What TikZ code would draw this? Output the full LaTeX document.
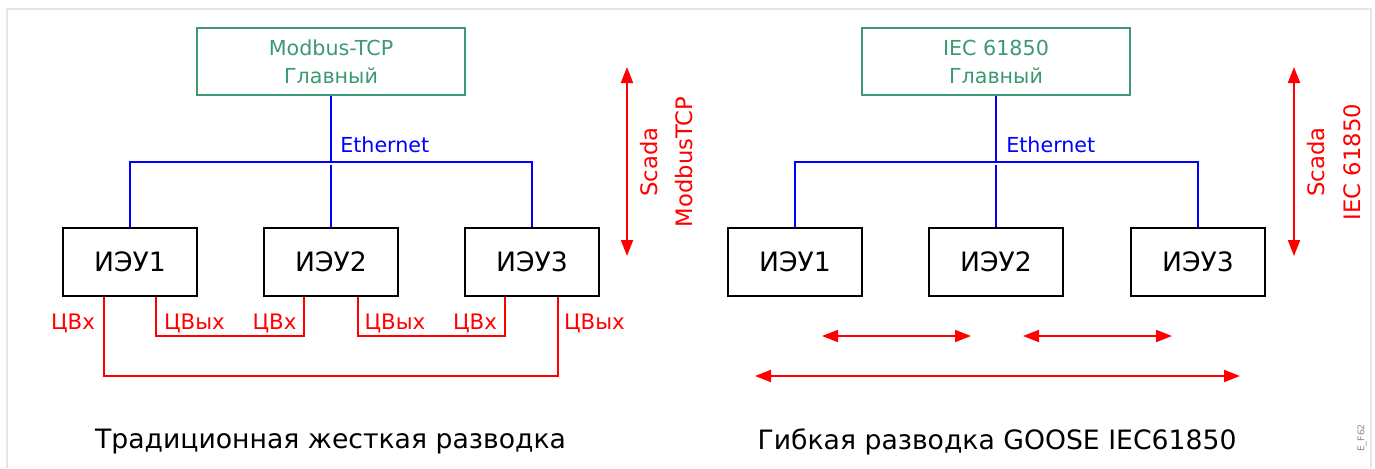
\documentclass[tikz,border=0pt]{standalone}
\usepackage{fontspec}
\setmainfont{DejaVu Sans}
\usetikzlibrary{arrows.meta}
\definecolor{mgreen}{RGB}{61,153,112}
\definecolor{mred}{RGB}{255,0,0}
\definecolor{mblue}{RGB}{0,0,255}
\definecolor{frame}{RGB}{230,230,230}
\tikzset{
  ied/.style={draw=black, line width=1.2pt, inner sep=0pt, minimum width=100.5pt, minimum height=51pt, font=\fontsize{20}{23}\selectfont},
  master/.style={draw=mgreen, line width=1.1pt, inner sep=0pt, minimum width=201pt, minimum height=50.25pt, text=mgreen, align=center, font=\fontsize{15.5}{21}\selectfont},
  eth/.style={draw=mblue, line width=1.1pt},
  ethlbl/.style={text=mblue, font=\fontsize{15.5}{18}\selectfont, inner sep=0pt, anchor=west},
  wire/.style={draw=mred, line width=1.1pt},
  wirelbl/.style={text=mred, font=\fontsize{16}{18}\selectfont, inner sep=0pt},
  biarrow/.style={draw=mred, line width=1.5pt, {Triangle[length=12pt,width=9pt]}-{Triangle[length=12pt,width=9pt]}},
  vlbl/.style={text=mred, font=\fontsize{17}{20}\selectfont, inner sep=0pt, rotate=90},
  title/.style={font=\fontsize{20}{24}\selectfont, inner sep=0pt},
}
\begin{document}
\begin{tikzpicture}[x=0.75pt,y=-0.75pt]
\useasboundingbox (0,0) rectangle (1375,468);
% frame
\draw[frame, line width=1.8pt] (7,468) -- (7,9) -- (1371,9) -- (1371,468);

% ---------- left ----------
\node[master] (m1) at (331,61.5) {Modbus-TCP\\Главный};
\node[ied] (a1) at (130,262) {ИЭУ1};
\node[ied] (a2) at (331,262) {ИЭУ2};
\node[ied] (a3) at (532,262) {ИЭУ3};
\coordinate (h1) at (331,162);
\draw[eth] (m1.south) -- (h1);
\draw[eth] (a1.north) |- (h1) -| (a3.north);
\draw[eth] (331,165) -- (a2.north);
\node[ethlbl] (e1) at (340,145) {Ethernet};

\draw[wire] (104,0 |- a1.south) -- (104,376) -| (558,0 |- a3.south);
\draw[wire] (156,0 |- a1.south) -- (156,336) -| (304,0 |- a2.south);
\draw[wire] (358,0 |- a2.south) -- (358,336) -| (505,0 |- a3.south);
\node[wirelbl] (l1) at (73,323) {ЦВх};
\node[wirelbl] (l2) at (194.5,323) {ЦВых};
\node[wirelbl] (l3) at (274.5,323) {ЦВх};
\node[wirelbl] (l4) at (395,323) {ЦВых};
\node[wirelbl] (l5) at (475,323) {ЦВх};
\node[wirelbl] (l6) at (594.5,323) {ЦВых};

\coordinate (s1t) at (627,67);
\coordinate (s1b) at (627,256);
\draw[biarrow] (s1t) -- (s1b);
\node[vlbl] (sc1) at (649,162) {Scada};
\node[vlbl] (sc1b) at (684,162) {ModbusTCP};

\node[title] (t1) at (330.5,442) {Традиционная жесткая разводка};

% ---------- right ----------
\node[master] (m2) at (996,61.5) {IEC 61850\\Главный};
\node[ied] (b1) at (795,262) {ИЭУ1};
\node[ied] (b2) at (996,262) {ИЭУ2};
\node[ied] (b3) at (1198,262) {ИЭУ3};
\coordinate (h2) at (996,162);
\draw[eth] (m2.south) -- (h2);
\draw[eth] (b1.north) |- (h2) -| (b3.north);
\draw[eth] (996,165) -- (b2.north);
\node[ethlbl] (e2) at (1006,145) {Ethernet};

\coordinate (g1a) at (822,336);
\coordinate (g1b) at (971,336);
\coordinate (g2a) at (1023,336);
\coordinate (g2b) at (1172,336);
\coordinate (g3a) at (755,376);
\coordinate (g3b) at (1240,376);
\draw[biarrow] (g1a) -- (g1b);
\draw[biarrow] (g2a) -- (g2b);
\draw[biarrow] (g3a) -- (g3b);

\coordinate (s2t) at (1294,67);
\coordinate (s2b) at (1294,256);
\draw[biarrow] (s2t) -- (s2b);
\node[vlbl] (sc2) at (1316,162) {Scada};
\node[vlbl] (sc2b) at (1352,162) {IEC 61850};

\node[title] (t2) at (997,442) {Гибкая разводка GOOSE IEC61850};

\node[rotate=90, text=black!45, font=\fontsize{7}{8}\selectfont, inner sep=0pt] (ef) at (1362,438) {E\_F62};
\end{tikzpicture}
\end{document}
